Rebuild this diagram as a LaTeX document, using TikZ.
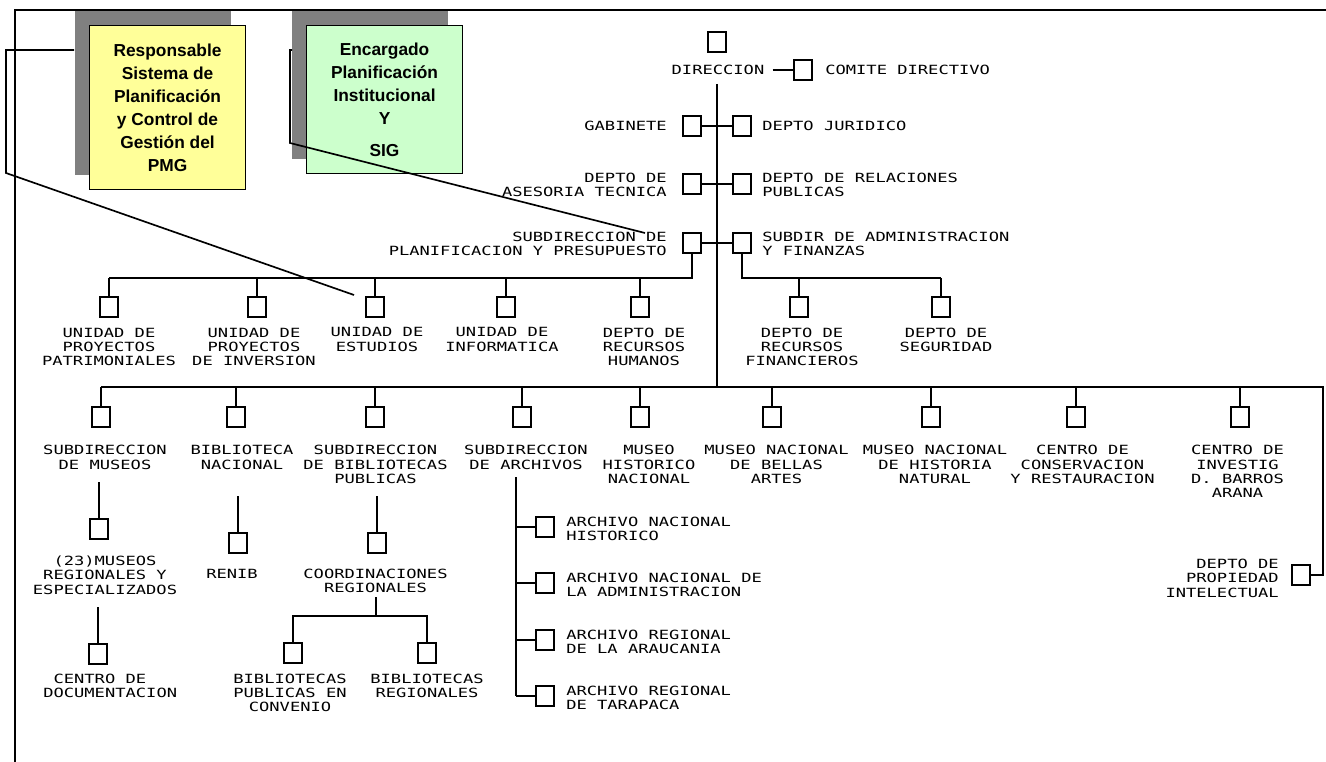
\documentclass[tikz,border=0pt]{standalone}
\usepackage{fontspec}
\setmainfont{Liberation Sans}
\newfontfamily\pixfont[FakeStretch=1.35]{DejaVu Sans Mono}
\usetikzlibrary{shadows}
\definecolor{yel}{HTML}{FFFF99}
\definecolor{grn}{HTML}{CCFFCC}
\definecolor{shgray}{HTML}{808080}
\tikzset{
	ubox/.style={draw, line width=1.25pt, minimum width=13.5pt, minimum height=15pt, inner sep=0pt},
	lbl/.style={font={\pixfont\fontsize{9.5pt}{10.8pt}\selectfont}, align=center, inner sep=0pt},
	link/.style={line width=1.25pt},
	note/.style={draw, line width=0.8pt, anchor=north west, minimum width=117pt, align=center, inner sep=0pt,
		font={\bfseries\fontsize{13pt}{17.25pt}\selectfont},
		drop shadow={shadow xshift=-11.25pt, shadow yshift=11.25pt, fill=shgray, opacity=1}},
}

\begin{document}
\begin{tikzpicture}[x=0.75pt,y=-0.75pt]
		\useasboundingbox (0,0) rectangle (1326,762);
		\draw[line width=1.5pt] (15,762) -- (15,10) -- (1326,10);
		% notes
		\node[note, fill=yel, minimum height=123pt] (resp) at (89,25) {Responsable\\Sistema de\\Planificación\\y Control de\\Gestión del\\PMG};
		\node[note, fill=grn, minimum height=111pt] (enc) at (306,25) {Encargado\\Planificación\\Institucional\\Y\\[6.75pt]SIG};
		\coordinate (esttip) at (354,295);
		\coordinate (sptip) at (645,233);
		\draw[link] ([shift={(-15,25)}]resp.north west) -- (6,50) -- (6,173) -- (esttip);
		\draw[link] ([shift={(-14,25)}]enc.north west) -- (290,50) -- (290,143) -- (sptip);
		% direccion
		\node[ubox] (dir) at (717,42) {};
		\node[lbl] (dirt) at (718,70) {DIRECCION};
		\node[ubox] (com) at (803,70) {};
		\node[lbl, anchor=west] at (825,70) {COMITE DIRECTIVO};
		\draw[link] ([xshift=6pt]dirt.east) -- (com.west);
		\coordinate (t0) at (717,84);
		\coordinate (t1) at (717,387);
		\draw[link] (t0) -- (t1);
		\foreach \y/\nm in {126/ga, 184/as, 243/sp}{
			\node[ubox] (\nm-l) at (692,\y) {};
			\node[ubox] (\nm-r) at (742,\y) {};
			\draw[link] (\nm-l.east) -- (\nm-r.west);
		}
		\node[lbl, anchor=east, align=right] at (667,126) {GABINETE};
		\node[lbl, anchor=west, align=left] at (762,126) {DEPTO JURIDICO};
		\node[lbl, anchor=east, align=right] at (667,185) {DEPTO DE\\ASESORIA TECNICA};
		\node[lbl, anchor=west, align=left] at (762,185) {DEPTO DE RELACIONES\\PUBLICAS};
		\node[lbl, anchor=east, align=right] at (667,244) {SUBDIRECCION DE\\PLANIFICACION Y PRESUPUESTO};
		\node[lbl, anchor=west, align=left] at (762,244) {SUBDIR DE ADMINISTRACION\\Y FINANZAS};
		% second row
		\draw[link] (sp-l.south) -- (692,278) -- (109,278);
		\draw[link] (sp-r.south) -- (742,278) -- (941,278);
		\foreach \x/\tx/\nm/\lab in {109/109/pa/{UNIDAD DE\\PROYECTOS\\PATRIMONIALES}, 257/254/inv/{UNIDAD DE\\PROYECTOS\\DE INVERSION},
			375/377/es/{UNIDAD DE\\ESTUDIOS}, 506/502/inf/{UNIDAD DE\\INFORMATICA}, 640/644/rh/{DEPTO DE\\RECURSOS\\HUMANOS},
			799/802/rf/{DEPTO DE\\RECURSOS\\FINANCIEROS}, 941/946/seg/{DEPTO DE\\SEGURIDAD}}{
			\node[ubox] (\nm) at (\x,307) {};
			\draw[link] (\nm.north) -- (\x,278);
			\node[lbl, anchor=north] at (\tx,327.5) {\lab};
		}
		% third row
		\node[ubox] (pi) at (1301,575) {};
		\node[lbl, anchor=east, align=right] at (1279,578) {DEPTO DE\\PROPIEDAD\\INTELECTUAL};
		\draw[link] (101,387) -- (1323,387) -- (1323,575) -- (pi.east);
		\foreach \x/\tx/\nm/\lab in {101/105/sm/{SUBDIRECCION\\DE MUSEOS}, 236/242/bn/{BIBLIOTECA\\NACIONAL},
			375/375.5/sb/{SUBDIRECCION\\DE BIBLIOTECAS\\PUBLICAS}, 522/526/sa/{SUBDIRECCION\\DE ARCHIVOS},
			640/649/mh/{MUSEO\\HISTORICO\\NACIONAL}, 772/776.5/mb/{MUSEO NACIONAL\\DE BELLAS\\ARTES},
			931/935/mn/{MUSEO NACIONAL\\DE HISTORIA\\NATURAL}, 1076/1082.5/cc/{CENTRO DE\\CONSERVACION\\Y RESTAURACION},
			1240/1237.5/ci/{CENTRO DE\\INVESTIG\\D. BARROS\\ARANA}}{
			\node[ubox] (\nm) at (\x,417) {};
			\draw[link] (\nm.north) -- (\x,387);
			\node[lbl, anchor=north] at (\tx,445) {\lab};
		}
		% museos
		\node[ubox] (mr) at (99,529) {};
		\draw[link] (99,482) -- (mr.north);
		\node[lbl, anchor=north] at (105,555.5) {(23)MUSEOS\\REGIONALES Y\\ESPECIALIZADOS};
		\node[ubox] (cd) at (98,654) {};
		\draw[link] (98,607) -- (cd.north);
		\node[lbl, anchor=north west, align=left] at (43,673.5) {\hphantom{X}CENTRO DE\\DOCUMENTACION};
		% bibliotecas
		\node[ubox] (rn) at (238,543) {};
		\draw[link] (238,496) -- (rn.north);
		\node[lbl, anchor=north] at (232,568.5) {RENIB};
		\node[ubox] (co) at (377,543) {};
		\draw[link] (377,496) -- (co.north);
		\node[lbl, anchor=north] at (375.5,568.5) {COORDINACIONES\\REGIONALES};
		\node[ubox] (bp) at (293,653) {};
		\node[ubox] (br) at (427,653) {};
		\draw[link] (376,597) -- (376,616);
		\draw[link] (bp.north) -- (293,616) -- (427,616) -- (br.north);
		\node[lbl, anchor=north] at (290,673.5) {BIBLIOTECAS\\PUBLICAS EN\\CONVENIO};
		\node[lbl, anchor=north] at (427,673.5) {BIBLIOTECAS\\REGIONALES};
		% archivos
		\draw[link] (516,477) -- (516,696);
		\foreach \y/\nm/\lab in {527/an/{ARCHIVO NACIONAL\\HISTORICO}, 583/aa/{ARCHIVO NACIONAL DE\\LA ADMINISTRACION},
			640/ar/{ARCHIVO REGIONAL\\DE LA ARAUCANIA}, 696/at/{ARCHIVO REGIONAL\\DE TARAPACA}}{
			\node[ubox] (\nm) at (545,\y) {};
			\draw[link] (516,\y) -- (\nm.west);
			\node[lbl, anchor=west, align=left] at (566,\y+2) {\lab};
		}
\end{tikzpicture}
\end{document}
